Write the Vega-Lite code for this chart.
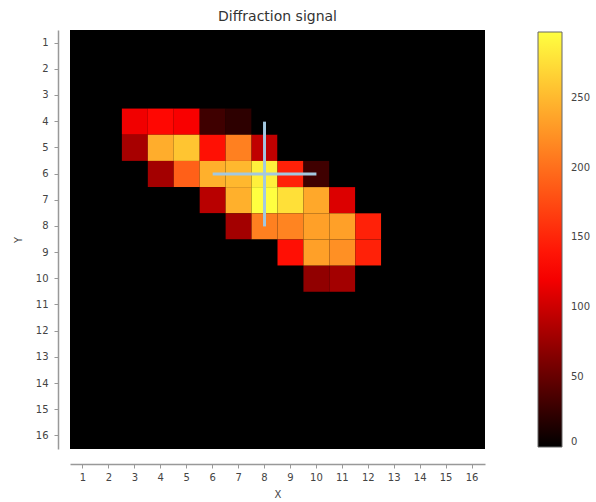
{
"$schema":"https://vega.github.io/schema/vega-lite/v6.json",
"width":415,"height":419,
"autosize":{"type":"none"},
"padding":{"left":70,"top":30,"right":111,"bottom":53},
"background":"white",
"config":{"view":{"stroke":null,"fill":"#000000"},"font":"DejaVu Sans"},
"title":{"text":"Diffraction signal","fontSize":14,"fontWeight":"normal","color":"#333","offset":6,"font":"DejaVu Sans"},
"datasets":{"cells":[
{"x":1,"y":1,"v":0},{"x":2,"y":1,"v":0},{"x":3,"y":1,"v":0},{"x":4,"y":1,"v":0},{"x":5,"y":1,"v":0},{"x":6,"y":1,"v":0},{"x":7,"y":1,"v":0},{"x":8,"y":1,"v":0},{"x":9,"y":1,"v":0},{"x":10,"y":1,"v":0},{"x":11,"y":1,"v":0},{"x":12,"y":1,"v":0},{"x":13,"y":1,"v":0},{"x":14,"y":1,"v":0},{"x":15,"y":1,"v":0},{"x":16,"y":1,"v":0},
{"x":1,"y":2,"v":0},{"x":2,"y":2,"v":0},{"x":3,"y":2,"v":0},{"x":4,"y":2,"v":0},{"x":5,"y":2,"v":0},{"x":6,"y":2,"v":0},{"x":7,"y":2,"v":0},{"x":8,"y":2,"v":0},{"x":9,"y":2,"v":0},{"x":10,"y":2,"v":0},{"x":11,"y":2,"v":0},{"x":12,"y":2,"v":0},{"x":13,"y":2,"v":0},{"x":14,"y":2,"v":0},{"x":15,"y":2,"v":0},{"x":16,"y":2,"v":0},
{"x":1,"y":3,"v":0},{"x":2,"y":3,"v":0},{"x":3,"y":3,"v":0},{"x":4,"y":3,"v":0},{"x":5,"y":3,"v":0},{"x":6,"y":3,"v":0},{"x":7,"y":3,"v":0},{"x":8,"y":3,"v":0},{"x":9,"y":3,"v":0},{"x":10,"y":3,"v":0},{"x":11,"y":3,"v":0},{"x":12,"y":3,"v":0},{"x":13,"y":3,"v":0},{"x":14,"y":3,"v":0},{"x":15,"y":3,"v":0},{"x":16,"y":3,"v":0},
{"x":1,"y":4,"v":0},{"x":2,"y":4,"v":0},{"x":3,"y":4,"v":118},{"x":4,"y":4,"v":130},{"x":5,"y":4,"v":122},{"x":6,"y":4,"v":31},{"x":7,"y":4,"v":22},{"x":8,"y":4,"v":0},{"x":9,"y":4,"v":0},{"x":10,"y":4,"v":0},{"x":11,"y":4,"v":0},{"x":12,"y":4,"v":0},{"x":13,"y":4,"v":0},{"x":14,"y":4,"v":0},{"x":15,"y":4,"v":0},{"x":16,"y":4,"v":0},
{"x":1,"y":5,"v":0},{"x":2,"y":5,"v":0},{"x":3,"y":5,"v":82},{"x":4,"y":5,"v":242},{"x":5,"y":5,"v":258},{"x":6,"y":5,"v":136},{"x":7,"y":5,"v":211},{"x":8,"y":5,"v":94},{"x":9,"y":5,"v":0},{"x":10,"y":5,"v":0},{"x":11,"y":5,"v":0},{"x":12,"y":5,"v":0},{"x":13,"y":5,"v":0},{"x":14,"y":5,"v":0},{"x":15,"y":5,"v":0},{"x":16,"y":5,"v":0},
{"x":1,"y":6,"v":0},{"x":2,"y":6,"v":0},{"x":3,"y":6,"v":0},{"x":4,"y":6,"v":80},{"x":5,"y":6,"v":190},{"x":6,"y":6,"v":244},{"x":7,"y":6,"v":249},{"x":8,"y":6,"v":287},{"x":9,"y":6,"v":147},{"x":10,"y":6,"v":31},{"x":11,"y":6,"v":0},{"x":12,"y":6,"v":0},{"x":13,"y":6,"v":0},{"x":14,"y":6,"v":0},{"x":15,"y":6,"v":0},{"x":16,"y":6,"v":0},
{"x":1,"y":7,"v":0},{"x":2,"y":7,"v":0},{"x":3,"y":7,"v":0},{"x":4,"y":7,"v":0},{"x":5,"y":7,"v":0},{"x":6,"y":7,"v":90},{"x":7,"y":7,"v":244},{"x":8,"y":7,"v":297},{"x":9,"y":7,"v":276},{"x":10,"y":7,"v":238},{"x":11,"y":7,"v":108},{"x":12,"y":7,"v":0},{"x":13,"y":7,"v":0},{"x":14,"y":7,"v":0},{"x":15,"y":7,"v":0},{"x":16,"y":7,"v":0},
{"x":1,"y":8,"v":0},{"x":2,"y":8,"v":0},{"x":3,"y":8,"v":0},{"x":4,"y":8,"v":0},{"x":5,"y":8,"v":0},{"x":6,"y":8,"v":0},{"x":7,"y":8,"v":80},{"x":8,"y":8,"v":211},{"x":9,"y":8,"v":214},{"x":10,"y":8,"v":233},{"x":11,"y":8,"v":233},{"x":12,"y":8,"v":147},{"x":13,"y":8,"v":0},{"x":14,"y":8,"v":0},{"x":15,"y":8,"v":0},{"x":16,"y":8,"v":0},
{"x":1,"y":9,"v":0},{"x":2,"y":9,"v":0},{"x":3,"y":9,"v":0},{"x":4,"y":9,"v":0},{"x":5,"y":9,"v":0},{"x":6,"y":9,"v":0},{"x":7,"y":9,"v":0},{"x":8,"y":9,"v":0},{"x":9,"y":9,"v":135},{"x":10,"y":9,"v":233},{"x":11,"y":9,"v":222},{"x":12,"y":9,"v":147},{"x":13,"y":9,"v":0},{"x":14,"y":9,"v":0},{"x":15,"y":9,"v":0},{"x":16,"y":9,"v":0},
{"x":1,"y":10,"v":0},{"x":2,"y":10,"v":0},{"x":3,"y":10,"v":0},{"x":4,"y":10,"v":0},{"x":5,"y":10,"v":0},{"x":6,"y":10,"v":0},{"x":7,"y":10,"v":0},{"x":8,"y":10,"v":0},{"x":9,"y":10,"v":0},{"x":10,"y":10,"v":71},{"x":11,"y":10,"v":80},{"x":12,"y":10,"v":0},{"x":13,"y":10,"v":0},{"x":14,"y":10,"v":0},{"x":15,"y":10,"v":0},{"x":16,"y":10,"v":0},
{"x":1,"y":11,"v":0},{"x":2,"y":11,"v":0},{"x":3,"y":11,"v":0},{"x":4,"y":11,"v":0},{"x":5,"y":11,"v":0},{"x":6,"y":11,"v":0},{"x":7,"y":11,"v":0},{"x":8,"y":11,"v":0},{"x":9,"y":11,"v":0},{"x":10,"y":11,"v":0},{"x":11,"y":11,"v":0},{"x":12,"y":11,"v":0},{"x":13,"y":11,"v":0},{"x":14,"y":11,"v":0},{"x":15,"y":11,"v":0},{"x":16,"y":11,"v":0},
{"x":1,"y":12,"v":0},{"x":2,"y":12,"v":0},{"x":3,"y":12,"v":0},{"x":4,"y":12,"v":0},{"x":5,"y":12,"v":0},{"x":6,"y":12,"v":0},{"x":7,"y":12,"v":0},{"x":8,"y":12,"v":0},{"x":9,"y":12,"v":0},{"x":10,"y":12,"v":0},{"x":11,"y":12,"v":0},{"x":12,"y":12,"v":0},{"x":13,"y":12,"v":0},{"x":14,"y":12,"v":0},{"x":15,"y":12,"v":0},{"x":16,"y":12,"v":0},
{"x":1,"y":13,"v":0},{"x":2,"y":13,"v":0},{"x":3,"y":13,"v":0},{"x":4,"y":13,"v":0},{"x":5,"y":13,"v":0},{"x":6,"y":13,"v":0},{"x":7,"y":13,"v":0},{"x":8,"y":13,"v":0},{"x":9,"y":13,"v":0},{"x":10,"y":13,"v":0},{"x":11,"y":13,"v":0},{"x":12,"y":13,"v":0},{"x":13,"y":13,"v":0},{"x":14,"y":13,"v":0},{"x":15,"y":13,"v":0},{"x":16,"y":13,"v":0},
{"x":1,"y":14,"v":0},{"x":2,"y":14,"v":0},{"x":3,"y":14,"v":0},{"x":4,"y":14,"v":0},{"x":5,"y":14,"v":0},{"x":6,"y":14,"v":0},{"x":7,"y":14,"v":0},{"x":8,"y":14,"v":0},{"x":9,"y":14,"v":0},{"x":10,"y":14,"v":0},{"x":11,"y":14,"v":0},{"x":12,"y":14,"v":0},{"x":13,"y":14,"v":0},{"x":14,"y":14,"v":0},{"x":15,"y":14,"v":0},{"x":16,"y":14,"v":0},
{"x":1,"y":15,"v":0},{"x":2,"y":15,"v":0},{"x":3,"y":15,"v":0},{"x":4,"y":15,"v":0},{"x":5,"y":15,"v":0},{"x":6,"y":15,"v":0},{"x":7,"y":15,"v":0},{"x":8,"y":15,"v":0},{"x":9,"y":15,"v":0},{"x":10,"y":15,"v":0},{"x":11,"y":15,"v":0},{"x":12,"y":15,"v":0},{"x":13,"y":15,"v":0},{"x":14,"y":15,"v":0},{"x":15,"y":15,"v":0},{"x":16,"y":15,"v":0},
{"x":1,"y":16,"v":0},{"x":2,"y":16,"v":0},{"x":3,"y":16,"v":0},{"x":4,"y":16,"v":0},{"x":5,"y":16,"v":0},{"x":6,"y":16,"v":0},{"x":7,"y":16,"v":0},{"x":8,"y":16,"v":0},{"x":9,"y":16,"v":0},{"x":10,"y":16,"v":0},{"x":11,"y":16,"v":0},{"x":12,"y":16,"v":0},{"x":13,"y":16,"v":0},{"x":14,"y":16,"v":0},{"x":15,"y":16,"v":0},{"x":16,"y":16,"v":0}
]},
"layer":[
{"data":{"name":"cells"},
 "mark":{"type":"rect","strokeWidth":0},
 "encoding":{
  "x":{"field":"x","type":"ordinal","scale":{"paddingInner":0,"paddingOuter":0},
       "axis":{"title":"X","orient":"bottom","offset":15,"labelAngle":0,"domainColor":"#999","domainWidth":1.5,"tickColor":"#999","tickSize":4,"labelFontSize":10,"labelColor":"#444","labelFont":"DejaVu Sans","titleFont":"DejaVu Sans","titleFontSize":10,"titleColor":"#444","titleFontWeight":"normal","labelPadding":4,"titlePadding":7}},
  "y":{"field":"y","type":"ordinal","scale":{"paddingInner":0,"paddingOuter":0},
       "axis":{"title":"Y","offset":12,"domainColor":"#999","domainWidth":1.5,"tickColor":"#999","tickSize":4,"labelFontSize":10,"labelColor":"#444","labelFont":"DejaVu Sans","titleFont":"DejaVu Sans","titleFontSize":10,"titleColor":"#444","titleFontWeight":"normal","labelPadding":6,"titlePadding":12}},
  "color":{"field":"v","type":"quantitative",
       "scale":{"domain":[0,125,297],"range":["#000000","#ff0000","#ffff40"],"interpolate":"rgb"},
       "legend":{"orient":"none","legendX":468,"legendY":2,"direction":"vertical","gradientLength":415,"gradientThickness":24,"values":[0,50,100,150,200,250],"title":null,"labelOffset":9,"labelFontSize":10,"labelColor":"#444","labelFont":"DejaVu Sans","labelBaseline":"middle","gradientStrokeColor":"#666","gradientStrokeWidth":1}}
 }},
{"data":{"values":[{"x":6,"x2":10,"y":6}]},
 "mark":{"type":"rule","color":"#a3c8e0","strokeWidth":3},
 "encoding":{"x":{"field":"x","type":"ordinal"},"x2":{"field":"x2"},"y":{"field":"y","type":"ordinal"}}},
{"data":{"values":[{"x":8,"y":4,"y2":8}]},
 "mark":{"type":"rule","color":"#a3c8e0","strokeWidth":3},
 "encoding":{"x":{"field":"x","type":"ordinal"},"y":{"field":"y","type":"ordinal"},"y2":{"field":"y2"}}}
]
}
